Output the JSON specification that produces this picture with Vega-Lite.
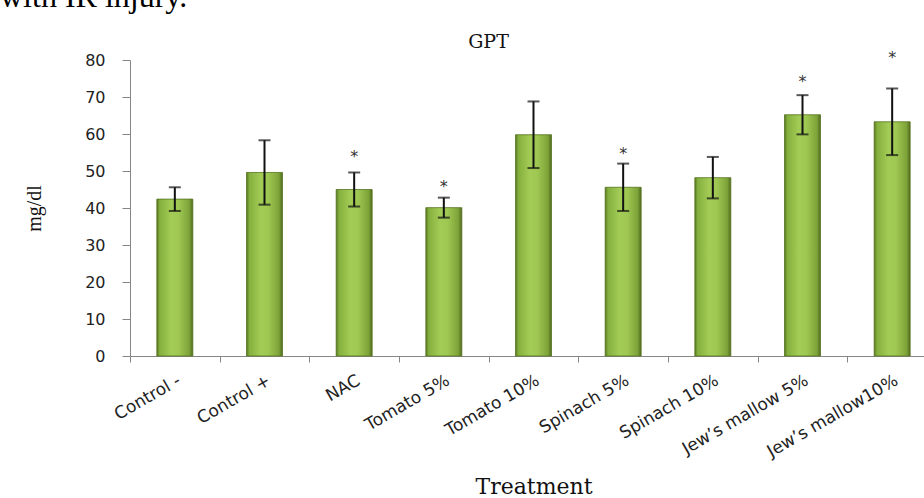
{
  "$schema": "https://vega.github.io/schema/vega-lite/v6.json",
  "width": 794,
  "height": 296,
  "autosize": {"type": "none"},
  "padding": {"left": 130, "top": 60, "right": 0, "bottom": 142},
  "background": "white",
  "title": {"text": "with IR injury.", "anchor": "start", "frame": "group", "dx": -130, "dy": 20, "baseline": "alphabetic", "offset": 13, "font": "Liberation Serif", "fontSize": 32, "fontWeight": "normal", "color": "#000000"},
  "config": {"view": {"stroke": null}, "axis": {"grid": false}},
  "data": {"values": [
    {"treatment": "Control -", "mean": 42.4, "sd": 3.2, "star": null},
    {"treatment": "Control +", "mean": 49.6, "sd": 8.7, "star": null},
    {"treatment": "NAC", "mean": 45.0, "sd": 4.6, "star": 53.8},
    {"treatment": "Tomato 5%", "mean": 40.1, "sd": 2.7, "star": 45.8},
    {"treatment": "Tomato 10%", "mean": 59.8, "sd": 9.0, "star": null},
    {"treatment": "Spinach 5%", "mean": 45.6, "sd": 6.4, "star": 54.6},
    {"treatment": "Spinach 10%", "mean": 48.2, "sd": 5.6, "star": null},
    {"treatment": "Jew’s  mallow 5%", "mean": 65.2, "sd": 5.3, "star": 74.0},
    {"treatment": "Jew’s  mallow10%", "mean": 63.3, "sd": 9.0, "star": 80.5}
  ]},
  "layer": [
    {
      "layer": [
        {
          "mark": {"type": "bar", "size": 36, "strokeWidth": 0.8, "stroke": "#55731f",
            "fill": {"gradient": "linear", "x1": 0, "x2": 1, "y1": 0, "y2": 0, "stops": [
              {"offset": 0, "color": "#56761f"},
              {"offset": 0.08, "color": "#86b03e"},
              {"offset": 0.4, "color": "#a2cc55"},
              {"offset": 0.6, "color": "#9fc852"},
              {"offset": 0.9, "color": "#7ea339"},
              {"offset": 1, "color": "#4f6b1c"}]}},
          "encoding": {
            "x": {"field": "treatment", "type": "nominal", "sort": null,
              "scale": {"domain": ["Control -", "Control +", "NAC", "Tomato 5%", "Tomato 10%", "Spinach 5%", "Spinach 10%", "Jew’s  mallow 5%", "Jew’s  mallow10%"], "range": [0, 807], "paddingInner": 0, "paddingOuter": 0},
              "axis": {"title": "Treatment", "labelAngle": -30, "labelAlign": "right", "labelBaseline": "top", "labelFont": "DejaVu Sans", "labelFontSize": 17, "labelColor": "#222222", "labelPadding": 10, "labelOverlap": false, "labelLimit": 0, "tickSize": 6, "tickBand": "extent", "tickColor": "#868686", "domainColor": "#868686", "titleFont": "DejaVu Serif", "titleFontSize": 22, "titleFontWeight": "normal", "titleColor": "#111111", "titleBaseline": "alphabetic", "titleY": 137}},
            "y": {"field": "mean", "type": "quantitative", "title": "mg/dl",
              "scale": {"domain": [0, 80], "nice": false},
              "axis": {"values": [0, 10, 20, 30, 40, 50, 60, 70, 80], "tickSize": 8, "tickColor": "#868686", "domainColor": "#868686", "labelFont": "DejaVu Sans", "labelFontSize": 16, "labelColor": "#222222", "labelPadding": 17, "title": "mg/dl", "titleFont": "Liberation Serif", "titleFontSize": 20, "titleFontWeight": "normal", "titleColor": "#111111", "titlePadding": 40}}
          }
        },
        {
          "mark": {"type": "errorbar", "ticks": {"size": 12, "thickness": 2, "color": "#111111"}, "rule": {"strokeWidth": 2, "color": "#111111"}},
          "encoding": {
            "x": {"field": "treatment", "type": "nominal", "sort": null},
            "y": {"field": "mean", "type": "quantitative", "title": "mg/dl",
              "axis": {"values": [0, 10, 20, 30, 40, 50, 60, 70, 80], "tickSize": 8, "tickColor": "#868686", "domainColor": "#868686", "labelFont": "DejaVu Sans", "labelFontSize": 16, "labelColor": "#222222", "labelPadding": 17, "title": "mg/dl", "titleFont": "Liberation Serif", "titleFontSize": 20, "titleFontWeight": "normal", "titleColor": "#111111", "titlePadding": 40}},
            "yError": {"field": "sd"}
          }
        }
      ]
    },
    {
      "transform": [{"filter": "datum.star != null"}],
      "mark": {"type": "text", "text": "*", "font": "DejaVu Sans", "fontSize": 16, "baseline": "middle", "color": "#333333"},
      "encoding": {
        "x": {"field": "treatment", "type": "nominal", "sort": null,
          "scale": {"domain": ["Control -", "Control +", "NAC", "Tomato 5%", "Tomato 10%", "Spinach 5%", "Spinach 10%", "Jew’s  mallow 5%", "Jew’s  mallow10%"], "range": [0, 807], "paddingInner": 0, "paddingOuter": 0},
          "axis": {"orient": "top", "labels": false, "ticks": false, "domain": false, "title": "GPT", "titleFont": "DejaVu Serif", "titleFontSize": 19, "titleFontWeight": "normal", "titleColor": "#111111", "titleX": 358, "titleY": -13, "titleAlign": "center", "titleBaseline": "alphabetic"}},
        "y": {"field": "star", "type": "quantitative", "title": "mg/dl",
          "axis": {"values": [0, 10, 20, 30, 40, 50, 60, 70, 80], "tickSize": 8, "tickColor": "#868686", "domainColor": "#868686", "labelFont": "DejaVu Sans", "labelFontSize": 16, "labelColor": "#222222", "labelPadding": 17, "title": "mg/dl", "titleFont": "Liberation Serif", "titleFontSize": 20, "titleFontWeight": "normal", "titleColor": "#111111", "titlePadding": 40}}
      }
    }
  ],
  "resolve": {"scale": {"x": "independent"}, "axis": {"x": "independent"}}
}
